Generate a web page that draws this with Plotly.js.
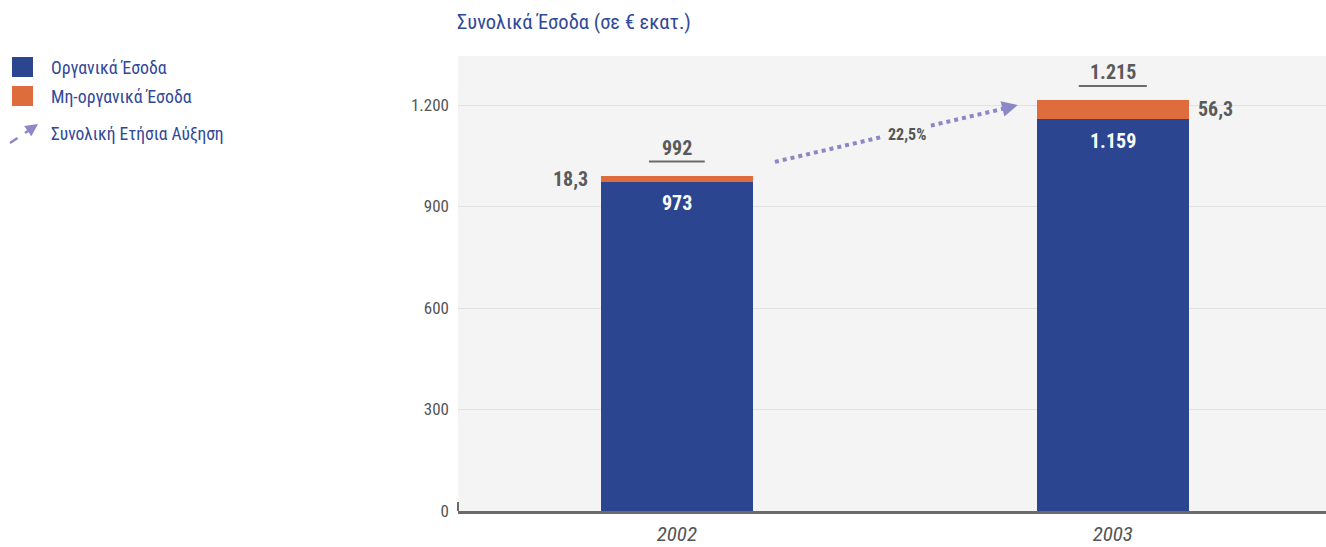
<!DOCTYPE html>
<html>
<head>
<meta charset="utf-8">
<script src="https://cdn.plot.ly/plotly-3.0.1.min.js"></script>
<style>
html,body{margin:0;padding:0;background:#fff;overflow:hidden;}
#chart{width:1326px;height:547px;}
</style>
</head>
<body>
<div id="chart"></div>
<script>
// ---- data ----
const years = ['2002', '2003'];
const organic = [973, 1159];
const nonOrganic = [18.3, 56.3];
const totals = [992, 1215];
const seriesNames = ['Οργανικά Έσοδα', 'Μη-οργανικά Έσοδα'];
const growthName = 'Συνολική Ετήσια Αύξηση';
const chartTitle = 'Συνολικά Έσοδα (σε € εκατ.)';
const yTicks = [0, 300, 600, 900, 1200];

// ---- style ----
const FONT = '"Roboto Condensed", Roboto, "Liberation Sans", sans-serif';
const BLUE = '#2b4590';
const ORANGE = '#df6c3d';
const TEXTBLUE = '#31489a';
const GRAY = '#5a5a5a';
const ARROW = '#8c87c5';
const W = 1326, H = 547, ML = 458, MT = 56, MB = 36, MR = 0;
const PW = W - ML - MR, PH = H - MT - MB;
const px = x => (x - ML) / PW;          // pixel -> paper x
const py = y => (H - MB - y) / PH;      // pixel -> paper y

function fmtInt(v) {
  return String(Math.round(v)).replace(/\B(?=(\d{3})+(?!\d))/g, '.');
}
function fmtDec(v) {
  return v.toFixed(1).replace('.', ',');
}

const traces = [
  {type: 'bar', x: years, y: organic, name: seriesNames[0], width: 0.35,
   marker: {color: BLUE}, hoverinfo: 'skip'},
  {type: 'bar', x: years, y: nonOrganic, name: seriesNames[1], width: 0.35,
   marker: {color: ORANGE}, hoverinfo: 'skip'}
];

const annotations = [];
const shapes = [];

years.forEach((yr, i) => {
  annotations.push({x: i, y: totals[i] + 82, xref: 'x', yref: 'y', text: fmtInt(totals[i]),
    showarrow: false, font: {family: FONT, size: 20, color: GRAY, weight: 'bold'}, yanchor: 'middle'});
  const hw = 0.043 + 0.007 * fmtInt(totals[i]).length;
  shapes.push({type: 'line', xref: 'x', yref: 'y', x0: i - hw, x1: i + hw,
    y0: totals[i] + 41, y1: totals[i] + 41, line: {color: '#6b6b6b', width: 2}});
  annotations.push({x: i, y: organic[i] - 64, xref: 'x', yref: 'y', text: fmtInt(organic[i]),
    showarrow: false, font: {family: FONT, size: 20, color: '#ffffff', weight: 'bold'}, yanchor: 'middle'});
  const mid = organic[i] + nonOrganic[i] / 2;
  annotations.push({x: i + (i === 0 ? -0.2 : 0.19), y: mid, xref: 'x', yref: 'y',
    text: fmtDec(nonOrganic[i]), showarrow: false,
    xanchor: i === 0 ? 'right' : 'left', yanchor: 'middle',
    font: {family: FONT, size: 20, color: GRAY, weight: 'bold'}});
});

// growth arrow between bars
const growth = (totals[1] / totals[0] - 1) * 100;
const ax0 = 0.225, ay0 = totals[0] + 40, ax1 = 0.782, ay1 = totals[1] - 15;
shapes.push({type: 'line', xref: 'x', yref: 'y', x0: ax0, y0: ay0, x1: ax1 - 0.02, y1: ay1 - 7,
  line: {color: ARROW, width: 4, dash: 'dot'}});
annotations.push({x: ax1, y: ay1, xref: 'x', yref: 'y', ax: -12, ay: 3, axref: 'pixel', ayref: 'pixel',
  showarrow: true, arrowhead: 2, arrowsize: 0.9, arrowwidth: 3.5, arrowcolor: ARROW, text: '', standoff: 0});
annotations.push({x: 0.528, y: (ay0 + ay1) / 2 - 4, xref: 'x', yref: 'y',
  text: fmtDec(growth) + '%', showarrow: false, bgcolor: '#f4f4f4', borderpad: 4,
  font: {family: FONT, size: 16, color: '#555555', weight: 'bold'}});

// title
annotations.push({xref: 'paper', yref: 'paper', x: px(455), y: py(22), xanchor: 'left', yanchor: 'middle',
  text: chartTitle, showarrow: false, font: {family: FONT, size: 20.5, color: TEXTBLUE}});

// custom legend
const legColors = [BLUE, ORANGE];
const legY = [67, 96];
legColors.forEach((c, i) => {
  shapes.push({type: 'rect', xref: 'paper', yref: 'paper', x0: px(12), x1: px(33),
    y0: py(legY[i] + 10), y1: py(legY[i] - 10), fillcolor: c, line: {width: 0}});
  annotations.push({xref: 'paper', yref: 'paper', x: px(49), y: py(legY[i]), xanchor: 'left', yanchor: 'middle',
    text: seriesNames[i], showarrow: false, font: {family: FONT, size: 17.8, color: TEXTBLUE}});
});
shapes.push({type: 'line', xref: 'paper', yref: 'paper', x0: px(10), y0: py(143), x1: px(31), y1: py(129),
  line: {color: ARROW, width: 2.5, dash: 'dash'}});
annotations.push({xref: 'paper', yref: 'paper', x: px(38), y: py(124), ax: -10, ay: 7, axref: 'pixel', ayref: 'pixel',
  showarrow: true, arrowhead: 2, arrowsize: 1, arrowwidth: 2.5, arrowcolor: ARROW, text: '', standoff: 0});
annotations.push({xref: 'paper', yref: 'paper', x: px(49), y: py(134), xanchor: 'left', yanchor: 'middle',
  text: growthName, showarrow: false, font: {family: FONT, size: 17.5, color: TEXTBLUE}});

// small vertical tick at the axis origin
shapes.push({type: 'line', xref: 'paper', yref: 'paper', x0: 0, x1: 0, y0: 0, y1: 9 / PH,
  line: {color: '#6b6b6b', width: 2}});

const layout = {
  width: W, height: H,
  margin: {l: ML, r: MR, t: MT, b: MB, pad: 0},
  paper_bgcolor: '#ffffff',
  plot_bgcolor: '#f4f4f4',
  separators: ',.',
  barmode: 'stack',
  showlegend: false,
  hovermode: false,
  font: {family: FONT, color: GRAY},
  xaxis: {type: 'category', range: [-0.502, 1.489], showline: true, linecolor: '#6b6b6b', linewidth: 2.5,
    showgrid: false, zeroline: false, ticks: '', ticklabelstandoff: 2,
    tickfont: {family: FONT, size: 21, color: '#555555', style: 'italic'}, fixedrange: true},
  yaxis: {range: [0, 1345], tickvals: yTicks, ticktext: yTicks.map(fmtInt), showline: false, zeroline: false,
    gridcolor: '#e2e2e2', gridwidth: 1, ticks: '', ticklabelstandoff: 8,
    tickfont: {family: FONT, size: 17, color: '#555555'}, fixedrange: true},
  annotations: annotations,
  shapes: shapes
};

Plotly.newPlot('chart', traces, layout, {displayModeBar: false, staticPlot: true});
</script>
</body>
</html>
